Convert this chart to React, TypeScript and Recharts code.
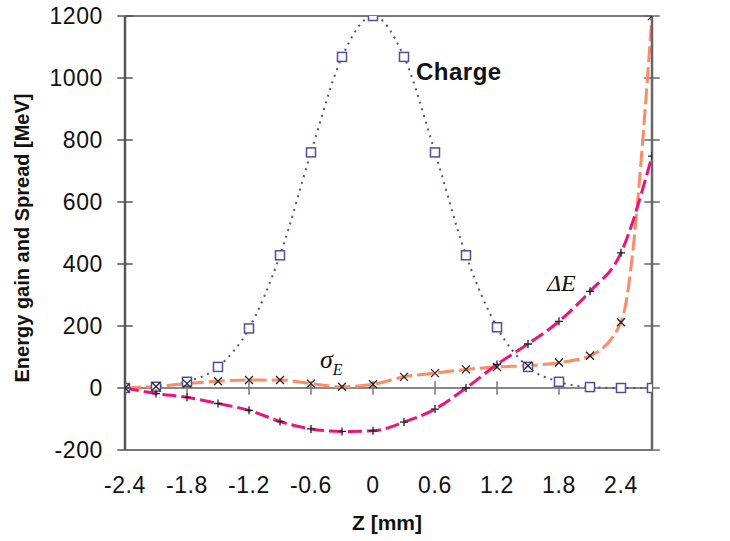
import React from 'react';
import { ComposedChart, Line, XAxis, YAxis, ReferenceLine } from 'recharts';

const zValues = [-2.4, -2.1, -1.8, -1.5, -1.2, -0.9, -0.6, -0.3, 0, 0.3, 0.6, 0.9, 1.2, 1.5, 1.8, 2.1, 2.4, 2.7];
const chargeValues = [0, 4, 20, 68, 192, 428, 760, 1068, 1200, 1068, 760, 428, 196, 68, 20, 3, 0, 0];
const deltaEValues = [0, -18, -30, -50, -72, -108, -132, -140, -138, -110, -68, 0, 76, 142, 215, 312, 436, 748];
const sigmaEValues = [0, 5, 14, 22, 26, 26, 14, 4, 12, 36, 48, 60, 68, 72, 82, 104, 212, 1200];

const xTicks = [-2.4, -1.8, -1.2, -0.6, 0, 0.6, 1.2, 1.8, 2.4];
const yTicks = [-200, 0, 200, 400, 600, 800, 1000, 1200];
const zeroLineTicks = [-1.8, -1.2, -0.6, 0, 0.6, 1.2, 1.8];

const X_MIN = -2.4;
const X_MAX = 2.7;

const data = zValues.map((z, i) => ({
  z,
  charge: chargeValues[i],
  deltaE: deltaEValues[i],
  sigmaE: sigmaEValues[i],
}));

const SquareDot = (props: any) => {
  const { cx, cy, index } = props;
  if (cx == null || cy == null) return null;
  return (
    <rect key={`sq-${index}`} x={cx - 4.5} y={cy - 4.5} width={9} height={9}
      fill="#fff" stroke="#4f4f96" strokeWidth={1.5} />
  );
};

const PlusDot = (props: any) => {
  const { cx, cy, index } = props;
  if (cx == null || cy == null) return null;
  return (
    <path key={`pl-${index}`} d={`M${cx - 4},${cy}H${cx + 4}M${cx},${cy - 4}V${cy + 4}`}
      stroke="#222" strokeWidth={1.3} />
  );
};

const CrossDot = (props: any) => {
  const { cx, cy, index } = props;
  if (cx == null || cy == null) return null;
  return (
    <path key={`cr-${index}`} d={`M${cx - 4},${cy - 4}L${cx + 4},${cy + 4}M${cx + 4},${cy - 4}L${cx - 4},${cy + 4}`}
      stroke="#222" strokeWidth={1.3} />
  );
};

const font = '"Liberation Sans", Arial, Helvetica, sans-serif';

const makeTick = (anchor: 'start' | 'middle' | 'end', dy: string, fmt?: (v: number) => string) =>
  (props: any) => {
    const { x, y, payload } = props;
    const v = payload.value as number;
    return (
      <text x={x} y={y} dy={dy} textAnchor={anchor} fill="#111" fontSize={23}
        fontFamily={font} letterSpacing={0.6}>
        {fmt ? fmt(v) : String(v)}
      </text>
    );
  };

const xTick = makeTick('middle', '0.72em');
const leftTick = makeTick('end', '0.36em');
const rightTick = makeTick('start', '0.36em', (v) => (v === -200 ? '-20' : String(v)));

export default function App() {
  return (
    <div style={{ position: 'absolute', left: 0, top: 0, width: 730, height: 541, background: '#fff', fontFamily: font }}>
      <ComposedChart width={730} height={541} data={data}
        margin={{ top: 16, right: 0, left: 0, bottom: 31 }}>
        <XAxis dataKey="z" type="number" domain={[X_MIN, X_MAX]} ticks={xTicks}
          allowDataOverflow height={60} tickLine={false} tickSize={0} tickMargin={26}
          axisLine={{ stroke: '#777', strokeWidth: 2 }}
          tick={xTick} />
        <YAxis yAxisId="l" domain={[-200, 1200]} ticks={yTicks} width={125}
          allowDataOverflow tickLine={false} tickSize={0} tickMargin={22}
          axisLine={{ stroke: '#555', strokeWidth: 2.5 }}
          tick={leftTick} />
        <YAxis yAxisId="r" orientation="right" domain={[-200, 1200]} ticks={yTicks} width={78}
          tickLine={false} tickSize={0} tickMargin={20}
          axisLine={{ stroke: '#666', strokeWidth: 2.5 }}
          tick={rightTick} />

        <ReferenceLine yAxisId="l" y={1200} stroke="#777" strokeWidth={2} />
        <ReferenceLine yAxisId="l" y={0} stroke="#888" strokeWidth={2} />
        {zeroLineTicks.map((t) => (
          <ReferenceLine key={`zt-${t}`} yAxisId="l" ifOverflow="visible"
            segment={[{ x: t, y: -22 }, { x: t, y: 22 }]} stroke="#777" strokeWidth={1.5} />
        ))}
        {yTicks.map((t) => (
          <ReferenceLine key={`lt-${t}`} yAxisId="l" ifOverflow="visible"
            segment={[{ x: X_MIN - 0.075, y: t }, { x: X_MIN + 0.075, y: t }]} stroke="#555" strokeWidth={1.5} />
        ))}
        {yTicks.map((t) => (
          <ReferenceLine key={`rt-${t}`} yAxisId="l" ifOverflow="visible"
            segment={[{ x: X_MAX - 0.075, y: t }, { x: X_MAX + 0.075, y: t }]} stroke="#666" strokeWidth={1.5} />
        ))}

        <Line yAxisId="l" dataKey="charge" type="monotone" stroke="#4f4f96" strokeWidth={2}
          strokeDasharray="2 5" dot={<SquareDot />} activeDot={false} isAnimationActive={false} />
        <Line yAxisId="l" dataKey="sigmaE" type="monotone" stroke="#ff8a66" strokeWidth={3}
          strokeDasharray="16 5" dot={<CrossDot />} activeDot={false} isAnimationActive={false} />
        <Line yAxisId="l" dataKey="deltaE" type="monotone" stroke="#ea147c" strokeWidth={3}
          strokeDasharray="14 5" dot={<PlusDot />} activeDot={false} isAnimationActive={false} />
      </ComposedChart>

      <div style={{ position: 'absolute', left: 22, top: 238, transform: 'translate(-50%, -50%) rotate(-90deg)',
        whiteSpace: 'nowrap', fontSize: 20, fontWeight: 'bold', color: '#111' }}>
        Energy gain and Spread [MeV]
      </div>
      <div style={{ position: 'absolute', left: 387, top: 523, transform: 'translate(-50%, -50%)',
        whiteSpace: 'nowrap', fontSize: 21, fontWeight: 'bold', color: '#111' }}>
        Z [mm]
      </div>
      <div style={{ position: 'absolute', left: 416, top: 72, transform: 'translateY(-50%)',
        whiteSpace: 'nowrap', fontSize: 24, fontWeight: 'bold', color: '#111', letterSpacing: 0.5 }}>
        Charge
      </div>
      <div style={{ position: 'absolute', left: 547, top: 283, transform: 'translateY(-50%)',
        whiteSpace: 'nowrap', fontSize: 24, fontStyle: 'italic', color: '#111',
        fontFamily: '"Liberation Serif", "DejaVu Serif", serif' }}>
        ΔE
      </div>
      <div style={{ position: 'absolute', left: 320, top: 362, transform: 'translateY(-50%)',
        whiteSpace: 'nowrap', fontSize: 26, fontStyle: 'italic', color: '#111',
        fontFamily: '"Liberation Serif", "DejaVu Serif", serif' }}>
        σ<sub style={{ fontSize: 16 }}>E</sub>
      </div>
    </div>
  );
}
